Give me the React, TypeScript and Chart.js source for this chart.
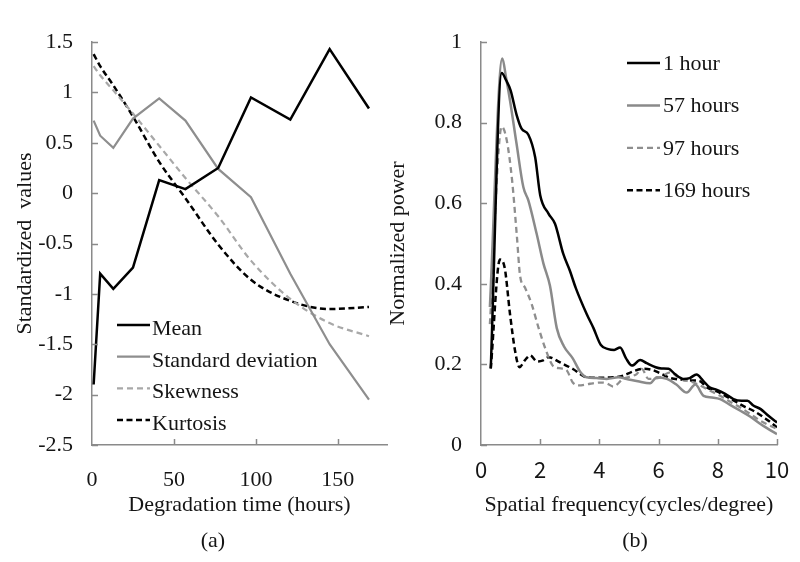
import React, { useEffect, useRef } from "react";
import { Chart, registerables } from "chart.js";
Chart.register(...registerables);

// ---------- Panel (a) data ----------
const TIMES = [1, 5, 13, 25, 41, 57, 77, 97, 121, 145, 169];
const MEAN = [-1.9, -0.8, -0.95, -0.74, 0.13, 0.04, 0.25, 0.95, 0.73, 1.43, 0.84];
const STD_DEV = [0.72, 0.57, 0.45, 0.74, 0.94, 0.72, 0.24, -0.04, -0.8, -1.5, -2.05];
const SKEWNESS = [1.26, 1.17, 1.02, 0.79, 0.47, 0.15, -0.23, -0.67, -1.05, -1.29, -1.42];
const KURTOSIS = [1.38, 1.26, 1.07, 0.76, 0.31, -0.05, -0.51, -0.86, -1.07, -1.15, -1.13];
const A_X_TICKS = [0, 50, 100, 150];
const A_Y_TICKS = [-2.5, -2, -1.5, -1, -0.5, 0, 0.5, 1, 1.5];

// ---------- Panel (b) data ----------
const F_1H = [0.33, 0.7, 0.85, 1.0, 1.2, 1.37, 1.6, 1.83, 2.0, 2.28, 2.5, 2.78, 3.0, 3.2, 3.57, 3.8, 4.05, 4.3, 4.5, 4.7, 4.9, 5.1, 5.38, 5.6, 5.9, 6.1, 6.34, 6.55, 6.84, 7.05, 7.28, 7.5, 7.72, 7.97, 8.25, 8.53, 8.8, 9.0, 9.2, 9.45, 9.7, 10];
const P_1H = [0.19, 0.923, 0.905, 0.88, 0.82, 0.785, 0.77, 0.714, 0.62, 0.574, 0.549, 0.474, 0.433, 0.39, 0.325, 0.29, 0.248, 0.238, 0.236, 0.242, 0.215, 0.197, 0.211, 0.203, 0.193, 0.19, 0.189, 0.176, 0.164, 0.166, 0.175, 0.16, 0.143, 0.137, 0.127, 0.114, 0.11, 0.11, 0.098, 0.089, 0.073, 0.056];
const F_57H = [0.3, 0.72, 0.85, 0.98, 1.2, 1.43, 1.6, 1.88, 2.11, 2.33, 2.56, 2.8, 3.1, 3.35, 3.57, 3.9, 4.25, 4.64, 4.92, 5.3, 5.71, 5.94, 6.28, 6.6, 6.95, 7.24, 7.52, 7.8, 8.08, 8.4, 8.76, 9.1, 9.44, 9.7, 10];
const P_57H = [0.342, 0.959, 0.91, 0.855, 0.748, 0.64, 0.607, 0.524, 0.45, 0.395, 0.29, 0.245, 0.215, 0.182, 0.168, 0.166, 0.164, 0.168, 0.164, 0.158, 0.153, 0.168, 0.164, 0.15, 0.13, 0.15, 0.122, 0.118, 0.114, 0.1, 0.085, 0.07, 0.052, 0.04, 0.027];
const F_97H = [0.3, 0.7, 0.87, 1.05, 1.21, 1.32, 1.49, 1.71, 1.94, 2.2, 2.45, 2.7, 2.9, 3.1, 3.3, 3.68, 4.02, 4.25, 4.47, 4.8, 5.05, 5.26, 5.43, 5.66, 6.05, 6.39, 6.73, 7.18, 7.63, 8.08, 8.4, 8.76, 9.1, 9.44, 9.7, 10];
const P_97H = [0.3, 0.79, 0.756, 0.657, 0.52, 0.42, 0.39, 0.35, 0.292, 0.234, 0.195, 0.19, 0.185, 0.155, 0.148, 0.152, 0.155, 0.153, 0.145, 0.164, 0.17, 0.176, 0.189, 0.164, 0.168, 0.18, 0.164, 0.155, 0.139, 0.122, 0.108, 0.093, 0.077, 0.06, 0.05, 0.04];
const F_169H = [0.33, 0.64, 0.8, 0.98, 1.15, 1.3, 1.48, 1.66, 1.9, 2.1, 2.28, 2.67, 3.12, 3.57, 4.0, 4.47, 4.8, 5.15, 5.5, 5.8, 6.05, 6.4, 6.8, 7.18, 7.41, 7.63, 7.97, 8.3, 8.64, 8.9, 9.2, 9.6, 10];
const P_169H = [0.19, 0.46, 0.44, 0.325, 0.234, 0.193, 0.21, 0.222, 0.207, 0.21, 0.218, 0.205, 0.188, 0.168, 0.167, 0.168, 0.172, 0.183, 0.189, 0.186, 0.178, 0.166, 0.162, 0.16, 0.158, 0.143, 0.133, 0.12, 0.106, 0.095, 0.085, 0.066, 0.044];
const B_X_TICKS = [0, 2, 4, 6, 8, 10];
const B_Y_TICKS = [0, 0.2, 0.4, 0.6, 0.8, 1];

const SERIF = "'Liberation Serif', 'Times New Roman', serif";
const GOTHIC = "'Noto Sans CJK JP', 'Liberation Sans', sans-serif";
const AXIS_COLOR = "#8a8a8a";
const TEXT_COLOR = "#151515";

const pts = (xs: number[], ys: number[]) => xs.map((x, i) => ({ x, y: ys[i] }));
const plainLabel = (v: any) => String(v);

// Inside-pointing tick marks on both axes.
const insideTicks = {
  id: "insideTicks",
  afterDraw(chart: any, _args: any, opts: any) {
    const { ctx, chartArea, scales } = chart;
    const len = opts.len || 6;
    ctx.save();
    ctx.strokeStyle = AXIS_COLOR;
    ctx.lineWidth = 1.5;
    const xs = scales.x;
    const ys = scales.y;
    xs.ticks.forEach((t: any) => {
      const px = Math.round(xs.getPixelForValue(t.value)) + 0.5;
      if (px <= chartArea.left + 2) return;
      ctx.beginPath();
      ctx.moveTo(px, chartArea.bottom);
      ctx.lineTo(px, chartArea.bottom - len);
      ctx.stroke();
    });
    ys.ticks.forEach((t: any) => {
      const py = Math.round(ys.getPixelForValue(t.value)) + 0.5;
      ctx.beginPath();
      ctx.moveTo(chartArea.left, py);
      ctx.lineTo(chartArea.left + len, py);
      ctx.stroke();
    });
    ctx.restore();
  },
};

const lineLegend = {
  id: "lineLegend",
  afterDraw(chart: any, _args: any, opts: any) {
    const { ctx } = chart;
    ctx.save();
    ctx.font = `22px ${SERIF}`;
    ctx.textBaseline = "alphabetic";
    ctx.textAlign = "left";
    chart.data.datasets.forEach((ds: any, i: number) => {
      const by = opts.y + i * opts.spacing;
      const ly = by - opts.lineOffset;
      ctx.beginPath();
      ctx.setLineDash(ds.borderDash || []);
      ctx.strokeStyle = ds.borderColor;
      ctx.lineWidth = ds.borderWidth;
      ctx.moveTo(opts.x1, ly);
      ctx.lineTo(opts.x2, ly);
      ctx.stroke();
      ctx.setLineDash([]);
      ctx.fillStyle = TEXT_COLOR;
      ctx.fillText(ds.label, opts.textX, by);
    });
    ctx.restore();
  },
};

// Horizontal axis: the gap under the axis line is an invisible tick mark.
function xAxis(ticksArr: number[], min: number, max: number, gap: number, font: string, title: string) {
  return {
    type: "linear" as const,
    min,
    max,
    afterBuildTicks: (s: any) => {
      s.ticks = ticksArr.map((v) => ({ value: v }));
    },
    afterFit: (s: any) => { s.height = 117; },
    grid: { display: true, drawOnChartArea: false, drawTicks: true, tickLength: gap, tickColor: "rgba(0,0,0,0)", color: "rgba(0,0,0,0)" },
    border: { display: true, color: AXIS_COLOR, width: 1.5 },
    ticks: { padding: 0, color: TEXT_COLOR, font: { family: font, size: 22, lineHeight: 1.2 }, maxRotation: 0, autoSkip: false, callback: plainLabel },
    title: { display: true, text: title, color: TEXT_COLOR, font: { family: SERIF, size: 22, lineHeight: 1.2 }, padding: { top: 0, bottom: 44 } },
  };
}

function yAxis(ticksArr: number[], min: number, max: number, width: number, titlePad: number, title: string) {
  return {
    type: "linear" as const,
    min,
    max,
    afterBuildTicks: (s: any) => {
      s.ticks = ticksArr.map((v) => ({ value: v }));
    },
    afterFit: (s: any) => { s.width = width; },
    grid: { display: false, drawTicks: false },
    border: { display: true, color: AXIS_COLOR, width: 1.5 },
    ticks: { padding: 19, color: TEXT_COLOR, font: { family: SERIF, size: 22 }, autoSkip: false, callback: plainLabel },
    title: { display: true, text: title, color: TEXT_COLOR, font: { family: SERIF, size: 22 }, padding: { top: titlePad, bottom: 0 } },
  };
}

function PanelA() {
  const ref = useRef<HTMLCanvasElement>(null);
  useEffect(() => {
    const chart = new Chart(ref.current as HTMLCanvasElement, {
      type: "line",
      data: {
        datasets: [
          { label: "Mean", data: pts(TIMES, MEAN), borderColor: "#000000", borderWidth: 2.5, pointRadius: 0, tension: 0 },
          { label: "Standard deviation", data: pts(TIMES, STD_DEV), borderColor: "#8e8e8e", borderWidth: 2.2, pointRadius: 0, tension: 0 },
          { label: "Skewness", data: pts(TIMES, SKEWNESS), borderColor: "#a8a8a8", borderWidth: 2.2, borderDash: [6, 4], pointRadius: 0, cubicInterpolationMode: "monotone" },
          { label: "Kurtosis", data: pts(TIMES, KURTOSIS), borderColor: "#000000", borderWidth: 2.5, borderDash: [6, 3.5], pointRadius: 0, cubicInterpolationMode: "monotone" },
        ] as any,
      },
      options: {
        responsive: false,
        animation: false,
        events: [],
        layout: { padding: { left: 0, top: 42, right: 3, bottom: 0 } },
        plugins: {
          legend: { display: false },
          tooltip: { enabled: false },
          lineLegend: { x1: 117, x2: 150, textX: 152, y: 335, spacing: 31.7, lineOffset: 10 },
          insideTicks: { len: 6 },
        } as any,
        scales: {
          x: xAxis(A_X_TICKS, 0, 180, 22, SERIF, "Degradation time (hours)"),
          y: yAxis(A_Y_TICKS, -2.5, 1.5, 92, 12.5, "Standardized  values"),
        } as any,
      },
      plugins: [insideTicks, lineLegend],
    });
    return () => chart.destroy();
  }, []);
  return <canvas ref={ref} width={390} height={562} style={{ position: "absolute", left: 0, top: 0, width: 390, height: 562 }} />;
}

function PanelB() {
  const ref = useRef<HTMLCanvasElement>(null);
  useEffect(() => {
    const chart = new Chart(ref.current as HTMLCanvasElement, {
      type: "line",
      data: {
        datasets: [
          { label: "1 hour", data: pts(F_1H, P_1H), borderColor: "#000000", borderWidth: 2.5, pointRadius: 0, cubicInterpolationMode: "monotone" },
          { label: "57 hours", data: pts(F_57H, P_57H), borderColor: "#8a8a8a", borderWidth: 2.5, pointRadius: 0, cubicInterpolationMode: "monotone" },
          { label: "97 hours", data: pts(F_97H, P_97H), borderColor: "#8e8e8e", borderWidth: 2.3, borderDash: [6, 4], pointRadius: 0, cubicInterpolationMode: "monotone" },
          { label: "169 hours", data: pts(F_169H, P_169H), borderColor: "#000000", borderWidth: 2.5, borderDash: [6, 3.5], pointRadius: 0, cubicInterpolationMode: "monotone" },
        ] as any,
      },
      options: {
        responsive: false,
        animation: false,
        events: [],
        layout: { padding: { left: 0, top: 42, right: 23, bottom: 0 } },
        plugins: {
          legend: { display: false },
          tooltip: { enabled: false },
          lineLegend: { x1: 252, x2: 285, textX: 288, y: 70, spacing: 42.4, lineOffset: 7 },
          insideTicks: { len: 6 },
        } as any,
        scales: {
          x: xAxis(B_X_TICKS, 0, 10, 11, GOTHIC, "Spatial frequency(cycles/degree)"),
          y: yAxis(B_Y_TICKS, 0, 1, 106, 10.5, "Normalized power"),
        } as any,
      },
      plugins: [insideTicks, lineLegend],
    });
    return () => chart.destroy();
  }, []);
  return <canvas ref={ref} width={425} height={562} style={{ position: "absolute", left: 375, top: 0, width: 425, height: 562 }} />;
}

const captionStyle = (cx: number): React.CSSProperties => ({
  position: "absolute",
  left: cx - 50,
  top: 527,
  width: 100,
  textAlign: "center",
  fontFamily: SERIF,
  fontSize: 22,
  lineHeight: "26px",
  color: TEXT_COLOR,
});

export default function App() {
  return (
    <div style={{ position: "fixed", left: 0, top: 0, width: 800, height: 562, background: "#ffffff", overflow: "hidden" }}>
      <PanelA />
      <PanelB />
      <div style={captionStyle(213)}>(a)</div>
      <div style={captionStyle(635)}>(b)</div>
    </div>
  );
}
